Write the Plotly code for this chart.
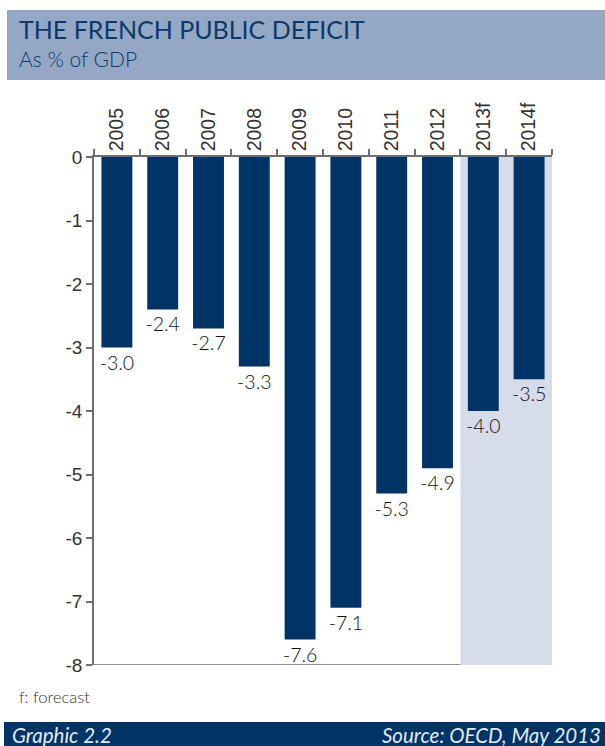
import plotly.graph_objects as go

years = ["2005", "2006", "2007", "2008", "2009", "2010", "2011", "2012", "2013f", "2014f"]
deficit = [-3.0, -2.4, -2.7, -3.3, -7.6, -7.1, -5.3, -4.9, -4.0, -3.5]
forecast_years = ["2013f", "2014f"]
y_ticks = [0, -1, -2, -3, -4, -5, -6, -7, -8]
y_tick_labels = ["0", "-1", "-2", "-3", "-4", "-5", "-6", "-7", "-8"]
value_labels = [f"{v:.1f}" for v in deficit]

W, H = 605, 746
L, R, T, B = 94, 552, 157, 665

def px_x(px):
    return (px - L) / (R - L)

def px_y(py):
    return (B - py) / (B - T)

BAR = "#003466"
HEAD = "#94a8c6"
SHADE = "#d6dce9"
AXIS = "#6e6e6e"
FONT = "Lato"

fig = go.Figure()
fig.add_trace(go.Bar(
    x=years, y=deficit, marker=dict(color=BAR, line=dict(width=0)),
    text=value_labels, textposition="outside", constraintext="none",
    textfont=dict(family=FONT, size=19.5, color="#111111", weight=300), cliponaxis=False,
))

first_fc = years.index(forecast_years[0])
last_fc = years.index(forecast_years[-1])
shapes = [
    dict(type="line", xref="x", yref="y", x0=-0.5, x1=len(years) - 0.5, y0=y_ticks[-1], y1=y_ticks[-1],
         line=dict(color=AXIS, width=1.5), layer="below"),
    dict(type="rect", xref="x", yref="y", x0=first_fc - 0.5, x1=last_fc + 0.5, y0=y_ticks[-1], y1=y_ticks[0],
         fillcolor=SHADE, line=dict(width=0), layer="below"),
    dict(type="rect", xref="paper", yref="paper", x0=px_x(7), x1=px_x(W), y0=px_y(80), y1=px_y(10),
         fillcolor=HEAD, line=dict(width=0), layer="below"),
    dict(type="rect", xref="paper", yref="paper", x0=px_x(4), x1=px_x(W), y0=px_y(H), y1=px_y(722),
         fillcolor=BAR, line=dict(width=0), layer="below"),
]

annotations = [
    dict(text="THE FRENCH PUBLIC DEFICIT", x=px_x(17), y=px_y(29), xref="paper", yref="paper",
         xanchor="left", yanchor="middle", showarrow=False,
         font=dict(family=FONT, size=25, color="#0b3a6a", weight=400)),
    dict(text="As % of GDP", x=px_x(17), y=px_y(59), xref="paper", yref="paper",
         xanchor="left", yanchor="middle", showarrow=False,
         font=dict(family=FONT, size=21, color="#0b3a6a", weight=300)),
    dict(text="f: forecast", x=px_x(17), y=px_y(697), xref="paper", yref="paper",
         xanchor="left", yanchor="middle", showarrow=False,
         font=dict(family=FONT, size=16.5, color="#333333", weight=300)),
    dict(text="<i>Graphic 2.2</i>", x=px_x(10), y=px_y(735), xref="paper", yref="paper",
         xanchor="left", yanchor="middle", showarrow=False,
         font=dict(family=FONT, size=20.5, color="#e4eaf2")),
    dict(text="<i>Source: OECD, May 2013</i>", x=px_x(603), y=px_y(735), xref="paper", yref="paper",
         xanchor="right", yanchor="middle", showarrow=False,
         font=dict(family=FONT, size=20.5, color="#e4eaf2")),
]

fig.update_layout(
    width=W, height=H,
    margin=dict(l=L, r=W - R, t=T, b=H - B, pad=0),
    paper_bgcolor="white", plot_bgcolor="white",
    showlegend=False, bargap=0.325,
    shapes=shapes, annotations=annotations,
    xaxis=dict(
        type="category", side="top", range=[-0.5, len(years) - 0.5],
        showline=True, linecolor=AXIS, linewidth=1.5,
        ticks="outside", tickson="boundaries", ticklen=6, tickcolor=AXIS, tickwidth=1.5,
        tickangle=-90, tickfont=dict(family="Liberation Sans", size=19.5, color="#333333"),
        showgrid=False, zeroline=False, fixedrange=True,
    ),
    yaxis=dict(
        range=[y_ticks[-1], y_ticks[0]], tickvals=y_ticks, ticktext=y_tick_labels,
        showline=True, linecolor=AXIS, linewidth=1.5,
        ticks="outside", ticklen=6, tickcolor=AXIS, tickwidth=1.5,
        tickfont=dict(family="Liberation Sans", size=19, color="#333333"),
        showgrid=False, zeroline=False, fixedrange=True,
    ),
)

fig.write_html("out.html")
